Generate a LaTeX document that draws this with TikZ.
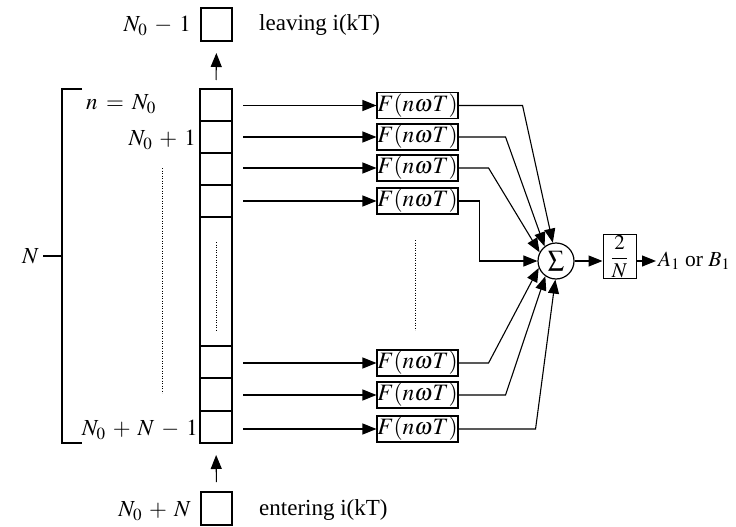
\documentclass[tikz,border=0pt]{standalone}
\usepackage{mathptmx}
\usepackage[no-math]{fontspec}
\setmainfont{Liberation Serif}
\usetikzlibrary{arrows.meta}
\newcommand\myLabFont{\fontsize{23}{26}\selectfont\medmuskip=5.5mu\relax\thickmuskip=6.5mu\relax}
\begin{document}
\begin{tikzpicture}[x=1pt,y=-1pt,
  lw/.style={line width=1.2pt},
  cell/.style={draw, line width=1.3pt, minimum width=32pt, minimum height=32pt, inner sep=0pt, outer sep=0pt},
  fbox/.style={draw, line width=1.1pt, minimum width=81pt, minimum height=26pt, inner sep=0pt, font=\fontsize{23.5}{26}\selectfont},
  arr/.style={line width=1.1pt, -{Triangle[length=14pt,width=11pt]}},
  lab/.style={font=\myLabFont, inner sep=0pt},
  dotl/.style={line width=0.9pt, dash pattern=on 1.2pt off 1.3pt}]
\useasboundingbox (0,0) rectangle (736,527);
% register
\node[cell] (r1) at (216,105) {};
\node[cell] (r2) at (216,137) {};
\node[cell] (r3) at (216,169) {};
\node[cell] (r4) at (216,201) {};
\node[cell, minimum height=129pt] (rb) at (216,281.5) {};
\node[cell] (r5) at (216,362) {};
\node[cell, minimum height=33pt] (r6) at (216,394.5) {};
\node[cell] (r7) at (216,427) {};
% top and bottom boxes
\node[cell, minimum height=33pt, minimum width=31pt] (tb) at (216.5,24.5) {};
\node[cell, minimum height=33pt, minimum width=31pt] (bt) at (216.5,508.5) {};
\draw[arr, shorten <=9pt, shorten >=12pt] (r1.north) -- (tb.south);
\draw[arr, shorten <=10pt, shorten >=12pt] (bt.north) -- (r7.south);
% labels
\node[lab, anchor=east] (l0) at (191,26) {$N_0 - 1$};
\node[lab, anchor=west] (lv) at (259,25) {leaving i(kT)};
\node[lab, anchor=east] (l1) at (191,511) {$N_0 + N$};
\node[lab, anchor=west] (le) at (259,510) {entering i(kT)};
\node[lab, anchor=west] (ln) at (86,104) {$n = N_0$};
\node[lab, anchor=east] (ln1) at (196,140) {$N_0 + 1$};
\node[lab, anchor=east] (lnn) at (198,430) {$N_0 + N - 1$};
\node[lab, anchor=east] (nl) at (39,256) {$N$};
% bracket
\coordinate (bkt) at (82,89);
\coordinate (bkb) at (82,443);
\coordinate (bkm) at (62,256);
\coordinate (nlt) at (43,256);
\draw[lw] (bkt) -- (62,89) -- (62,443) -- (bkb);
\draw[lw] (nlt) -- (bkm);
% dotted lines
\draw[dotl] (162,168) -- (162,393);
\draw[dotl] (216,242) -- (216,330);
\draw[dotl] (415,240) -- (415,330);
% F boxes
\node[fbox] (f1) at (417.5,105.5) {$F(n\omega T)$};
\node[fbox] (f2) at (417.5,137) {$F(n\omega T)$};
\node[fbox] (f3) at (417.5,168) {$F(n\omega T)$};
\node[fbox] (f4) at (417.5,201) {$F(n\omega T)$};
\node[fbox] (f5) at (417.5,363) {$F(n\omega T)$};
\node[fbox] (f6) at (417.5,395) {$F(n\omega T)$};
\node[fbox] (f7) at (417.5,429) {$F(n\omega T)$};
\foreach \i in {1,2,3,4,5,6,7}{
  \draw[arr, shorten <=11pt] (r\i.east |- f\i.west) -- (f\i.west);
}
% sum
\node[circle, draw, lw, minimum size=36pt, inner sep=0pt, font=\fontsize{23}{25}\selectfont] (sum) at (556,261) {$\sum$};
\draw[arr] (f1.east) -- ++(64,0) -- (sum.100);
\draw[arr] (f2.east) -- ++(47,0) -- (sum.128);
\draw[arr] (f3.east) -- ++(30,0) -- (sum.152);
\draw[arr] (f4.east) -- ++(21,0) |- (sum.west);
\draw[arr] (f5.east) -- ++(30,0) -- (sum.202);
\draw[arr] (f6.east) -- ++(47,0) -- (sum.235);
\draw[arr] (f7.east) -- ++(77,0) -- (sum.268);
% 2/N
\node[draw, line width=1pt, minimum width=33pt, minimum height=42pt, inner sep=0pt, font=\fontsize{21}{23}\selectfont] (div) at (619.5,256.5) {$\displaystyle\frac{2}{N}$};
\draw[arr] (sum.east) -- (div.west |- sum.east);
\node[lab, anchor=west, font=\fontsize{21.5}{24}\selectfont] (out) at (658,261) {$A_1$ or $B_1$};
\draw[arr, shorten >=2pt] (div.east |- sum.east) -- (out.west);
\end{tikzpicture}
\end{document}
